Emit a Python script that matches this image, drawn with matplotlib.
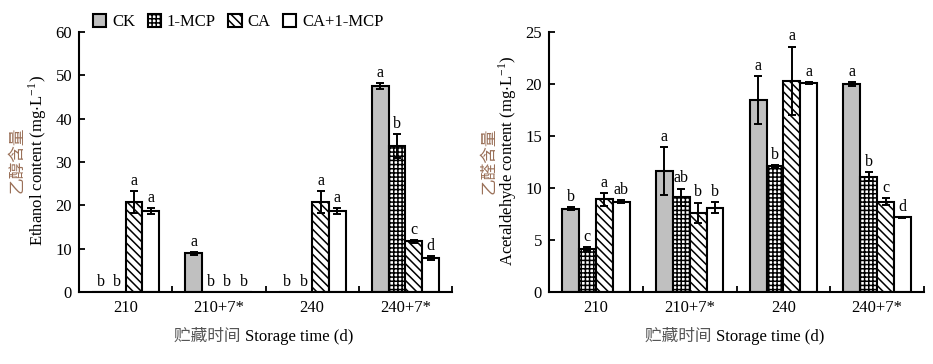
import numpy as np
import matplotlib
matplotlib.use('Agg')
import matplotlib.pyplot as plt

plt.rcParams['font.family'] = ['Liberation Serif', 'Noto Sans CJK SC']
plt.rcParams['mathtext.fontset'] = 'stix'
plt.rcParams['hatch.linewidth'] = 1.1

# data
groups = ['210', '210+7*', '240', '240+7*']
treatments = ['CK', '1-MCP', 'CA', 'CA+1-MCP']

ethanol = {
    'CK':       [0.0, 8.9, 0.0, 47.6],
    '1-MCP':    [0.0, 0.0, 0.0, 33.7],
    'CA':       [20.8, 0.0, 20.7, 11.7],
    'CA+1-MCP': [18.7, 0.0, 18.7, 7.9],
}
ethanol_err = {
    'CK':       [0.0, 0.3, 0.0, 0.7],
    '1-MCP':    [0.0, 0.0, 0.0, 2.7],
    'CA':       [2.5, 0.0, 2.5, 0.3],
    'CA+1-MCP': [0.6, 0.0, 0.6, 0.5],
}
ethanol_sig = {
    'CK':       ['b', 'a', 'b', 'a'],
    '1-MCP':    ['b', 'b', 'b', 'b'],
    'CA':       ['a', 'b', 'a', 'c'],
    'CA+1-MCP': ['a', 'b', 'a', 'd'],
}

acet = {
    'CK':       [8.0, 11.6, 18.5, 20.0],
    '1-MCP':    [4.1, 9.1, 12.1, 11.1],
    'CA':       [8.9, 7.6, 20.3, 8.7],
    'CA+1-MCP': [8.7, 8.1, 20.1, 7.2],
}
acet_err = {
    'CK':       [0.15, 2.3, 2.3, 0.15],
    '1-MCP':    [0.2, 0.85, 0.1, 0.4],
    'CA':       [0.65, 1.0, 3.3, 0.3],
    'CA+1-MCP': [0.1, 0.55, 0.1, 0.05],
}
acet_sig = {
    'CK':       ['b', 'a', 'a', 'a'],
    '1-MCP':    ['c', 'ab', 'b', 'b'],
    'CA':       ['a', 'b', 'a', 'c'],
    'CA+1-MCP': ['ab', 'b', 'a', 'd'],
}

styles = {
    'CK':       dict(color='#c0c0c0', hatch=None),
    '1-MCP':    dict(color='white', hatch='++++'),
    'CA':       dict(color='white', hatch='\\\\\\\\'),
    'CA+1-MCP': dict(color='white', hatch=None),
}

fig = plt.figure(figsize=(9.33, 3.64), dpi=100)
ax1 = fig.add_axes([0.0847, 0.1978, 0.3998, 0.7143])
ax2 = fig.add_axes([0.5884, 0.1978, 0.4020, 0.7143])

bw = 0.18
fs = 12


def draw(ax, vals, errs, sigs, ymax, ystep):
    x = np.arange(len(groups)) + 0.5
    for i, t in enumerate(treatments):
        xs = x + (i - 1.5) * bw
        st = styles[t]
        ax.bar(xs, vals[t], bw, color=st['color'], hatch=st['hatch'],
               edgecolor='black', linewidth=1.5, label=t, zorder=2)
        v = np.array(vals[t])
        e = np.array(errs[t])
        m = v > 0
        ax.errorbar(xs[m], v[m], yerr=e[m], fmt='none', ecolor='black',
                    elinewidth=1.4, capsize=2.6, capthick=1.4, zorder=3)
        for xx, vv, ee, s in zip(xs, v, e, sigs[t]):
            ax.annotate(s, (xx, vv + ee), xytext=(0, 1.5),
                        textcoords='offset points', ha='center', va='bottom',
                        fontsize=11.5)
    ax.set_xlim(0, len(groups))
    ax.set_ylim(0, ymax)
    ax.set_yticks(np.arange(0, ymax + 0.1, ystep))
    ax.set_xticks(x)
    ax.set_xticklabels(groups)
    ax.set_xticks(np.arange(1, len(groups) + 1), minor=True)
    ax.tick_params(axis='x', which='major', length=0, pad=6, labelsize=fs)
    ax.tick_params(axis='x', which='minor', direction='in', length=4, width=1.3)
    ax.tick_params(axis='y', direction='in', length=4, width=1.3, pad=5,
                   labelsize=fs)
    for s in ['top', 'right']:
        ax.spines[s].set_visible(False)
    for s in ['left', 'bottom']:
        ax.spines[s].set_linewidth(1.5)
    ax.text(0.445, -0.173, '贮藏时间 ', transform=ax.transAxes, ha='right',
            va='center', fontsize=fs, color='#555555')
    ax.text(0.445, -0.173, 'Storage time (d)', transform=ax.transAxes,
            ha='left', va='center', fontsize=fs)


draw(ax1, ethanol, ethanol_err, ethanol_sig, 60, 10)
draw(ax2, acet, acet_err, acet_sig, 25, 5)

# y labels, two lines with different colours
unit = r' content (mg$\cdot$L$^{\mathregular{-1}}$)'
fig.text(18 / 933, 1 - 160 / 364, '乙醇含量', rotation=90, ha='center',
         va='center', fontsize=fs, color='#9a7058')
fig.text(38 / 933, 1 - 161 / 364, 'Ethanol' + unit,
         rotation=90, ha='center', va='center', fontsize=fs)
fig.text(489 / 933, 1 - 161 / 364, '乙醛含量', rotation=90, ha='center',
         va='center', fontsize=fs, color='#9a7058')
fig.text(508 / 933, 1 - 161 / 364, 'Acetaldehyde' + unit,
         rotation=90, ha='center', va='center', fontsize=fs)

handles, labels = ax1.get_legend_handles_labels()
fig.legend(handles, labels, loc='center left', bbox_to_anchor=(93 / 933, 1 - 22 / 364),
           ncol=4, frameon=False, fontsize=fs, handlelength=0.8,
           handleheight=0.8, handletextpad=0.35, columnspacing=0.75,
           borderpad=0, borderaxespad=0)

fig.savefig('out.png', dpi=100)
